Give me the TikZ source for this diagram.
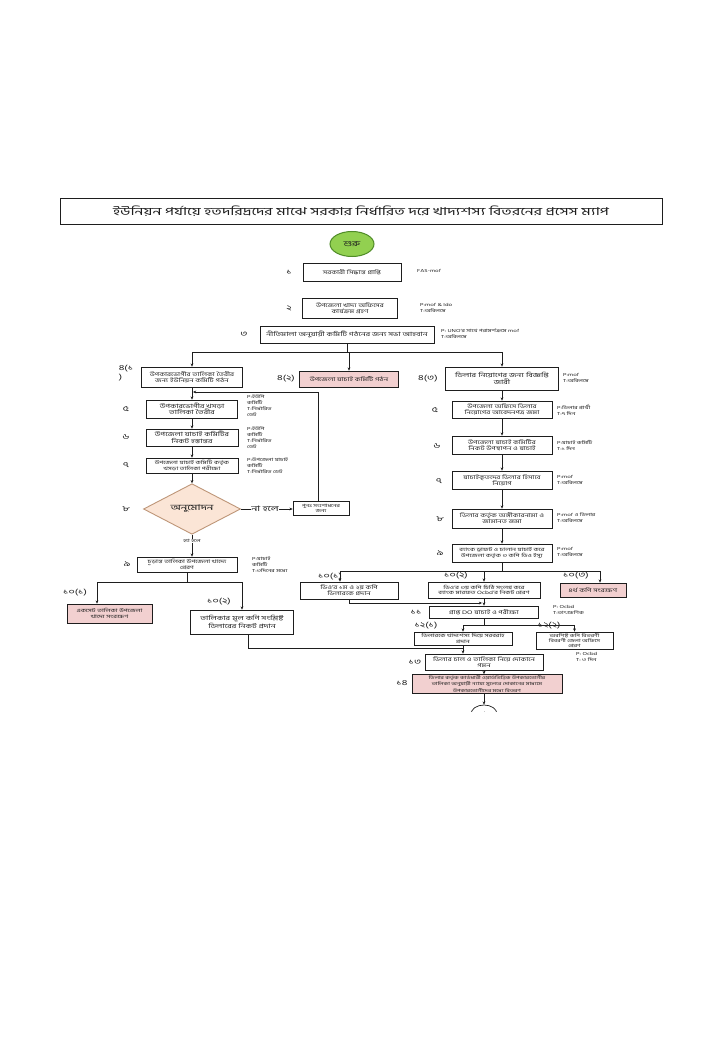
\documentclass[tikz,border=0pt]{standalone}
\usepackage{fontspec}
\setmainfont{Hind Siliguri}[Script=Bengali, FakeStretch=1.45]
\usetikzlibrary{shapes.geometric,arrows.meta}
\definecolor{pinkfill}{RGB}{242,208,208}
\definecolor{diafill}{RGB}{251,229,214}
\definecolor{diaborder}{RGB}{190,150,120}
\definecolor{startfill}{RGB}{146,208,80}
\definecolor{startborder}{RGB}{80,140,40}
\definecolor{ink}{RGB}{30,30,30}
\tikzset{
  box/.style={draw=ink, line width=0.7pt, fill=white, align=center, inner sep=0.5pt, text=ink, font=\fontsize{5.3}{6}\selectfont},
  pbox/.style={box, fill=pinkfill},
  side/.style={align=left, anchor=west, inner sep=0pt, text=ink, font=\fontsize{4.4}{6}\selectfont},
  num/.style={inner sep=0pt, text=ink, font=\fontsize{7.5}{8.5}\selectfont},
  arr/.style={-{Stealth[length=3.2pt,width=2.8pt]}, line width=0.7pt, draw=ink},
  ln/.style={line width=0.7pt, draw=ink},
  lbl/.style={fill=white, inner sep=0.6pt, text=ink}
}
\begin{document}
\begin{tikzpicture}[x=1pt,y=-1pt]
\useasboundingbox (0,0) rectangle (720,1040);
\fill[white] (0,0) rectangle (720,1040);

% title
\node[draw=ink, line width=0.8pt, minimum width=602pt, minimum height=26pt, inner sep=0pt, text=ink, font=\fontsize{10.9}{11.5}\selectfont] (title) at (361,211) {ইউনিয়ন পর্যায়ে হতদরিদ্রদের মাঝে সরকার নির্ধারিত দরে খাদ্যশস্য বিতরনের প্রসেস ম্যাপ};

% start
\node[ellipse, draw=startborder, line width=1pt, fill=startfill, minimum width=44pt, minimum height=25pt, inner sep=0pt, text=ink, font=\fontsize{7.5}{8}\selectfont] (start) at (352,244) {শুরু};

% main column
\node[box, minimum width=98pt, minimum height=18pt] (b1) at (352,272) {সরকারী সিদ্ধান্ত প্রাপ্তি};
\node[num] at (289,272) {১};
\node[side] at (417,271) {FAS-mof};

\node[box, minimum width=95pt, minimum height=20pt] (b2) at (350,308) {উপজেলা খাদ্য অফিসের\\কার্যক্রম গ্রহণ};
\node[num] at (289,308) {২};
\node[side] at (420,308) {P:mof \& Ido\\T:অবিলম্বে};

\node[box, minimum width=174pt, minimum height=17pt, font=\fontsize{5.8}{6.5}\selectfont] (b3) at (347,334.5) {নীতিমালা অনুযায়ী কমিটি গঠনের জন্য সভা আহবান};
\node[num] at (244,334) {৩};
\node[side] at (441,334) {P: UNO'র সাথে পরামর্শক্রমে mof\\T:অবিলম্বে};

% level 4
\node[box, minimum width=101pt, minimum height=20pt] (b41) at (192,377) {উপকারভোগীর তালিকা তৈরীর\\জন্য ইউনিয়ন কমিটি গঠন};
\node[num, align=left] at (126,373) {৪(১\\)};
\node[pbox, minimum width=99pt, minimum height=16pt] (b42) at (349,379) {উপজেলা যাচাই কমিটি গঠন};
\node[num] at (286,379) {৪(২)};
\node[box, minimum width=113pt, minimum height=23pt, font=\fontsize{6}{7}\selectfont] (b43) at (502,378.5) {ডিলার নিয়োগের জন্য বিজ্ঞপ্তি\\জারী};
\node[num] at (428,379) {৪(৩)};
\node[side] at (563,378) {P:mof\\T:অবিলম্বে};

\coordinate (j3) at (347,352);
\draw[ln] (b3.south) -- (j3);
\draw[ln] (b41.north |- j3) -- (b43.north |- j3);
\draw[arr] (b41.north |- j3) -- (b41.north);
\draw[arr] (b42.north |- j3) -- (b42.north);
\draw[arr] (b43.north |- j3) -- (b43.north);

% left column
\node[box, minimum width=91pt, minimum height=18pt, font=\fontsize{5.8}{6.6}\selectfont] (b5L) at (192,409) {উপকারভোগীর খসড়া\\তালিকা তৈরীর};
\node[num] at (126,409) {৫};
\node[side] at (247,406) {P:ইউপি\\কমিটি\\T:নির্ধারিত\\ডেট};

\node[box, minimum width=92pt, minimum height=17pt, font=\fontsize{5.8}{6.6}\selectfont] (b6L) at (192,437.5) {উপজেলা যাচাই কমিটির\\নিকট হস্তান্তর};
\node[num] at (126,437) {৬};
\node[side] at (247,438) {P:ইউপি\\কমিটি\\T:নির্ধারিত\\ডেট};

\node[box, minimum width=92pt, minimum height=15pt, font=\fontsize{4.8}{5.6}\selectfont] (b7L) at (192,465.5) {উপজেলা যাচাই কমিটি কর্তৃক\\খসড়া তালিকা পরীক্ষা};
\node[num] at (126,465) {৭};
\node[side] at (247,466) {P:উপজেলা যাচাই\\কমিটি\\T:নির্ধারিত ডেট};

\node[diamond, draw=diaborder, line width=0.9pt, fill=diafill, minimum width=97pt, minimum height=38pt, inner sep=0pt, text=ink, font=\fontsize{8}{9}\selectfont] (dia) at (192,509) {অনুমোদন};
\node[num] at (126,509) {৮};

\node[box, minimum width=56pt, minimum height=14pt, font=\fontsize{4.4}{5}\selectfont] (rev) at (321,508) {পুনঃ সংশোধনের\\জন্য};

\draw[arr] (b41) -- (b5L);
\draw[arr] (b5L) -- (b6L);
\draw[arr] (b6L) -- (b7L);
\draw[arr] (b7L) -- (dia);
\draw[arr] (dia.east) -- (dia.east -| rev.west);
\node[lbl, font=\fontsize{7.5}{8}\selectfont] at (265,509) {না হলে};
\coordinate (loop) at (193,392);
\draw[arr] (rev.north -| 318,0) |- (loop);

\node[box, minimum width=100pt, minimum height=15pt, font=\fontsize{4.9}{5.6}\selectfont] (b9L) at (187,564.5) {চূড়ান্ত তালিকা উপজেলা খাদ্যে\\প্রেরণ};
\node[num] at (127,564) {৯};
\node[side] at (252,565) {P:যাচাই\\কমিটি\\T:৩দিনের মধ্যে};
\draw[arr] (dia.south) -- (dia.south |- b9L.north);
\node[lbl, font=\fontsize{4.4}{5}\selectfont] at (192,541) {হ্যা হলে};

\coordinate (j9) at (187,582);
\coordinate (j9a) at (97,582);
\coordinate (j9b) at (242,582);
\node[pbox, minimum width=85pt, minimum height=19pt, font=\fontsize{4.8}{5.6}\selectfont] (b101L) at (109.5,613.5) {একসেট তালিকা উপজেলা\\খাদ্যে সংরক্ষণ};
\node[num] at (75,593) {১০(১)};
\node[box, minimum width=103pt, minimum height=24pt, font=\fontsize{6}{7.5}\selectfont] (b102L) at (242,622) {তালিকার মূল কপি সংশ্লিষ্ট\\ডিলারের নিকট প্রদান};
\node[num] at (219,602) {১০(২)};
\draw[ln] (b9L.south) -- (j9);
\draw[ln] (j9a) -- (j9b);
\draw[arr] (j9a) -- (j9a |- b101L.north);
\draw[arr] (j9b) -- (b102L.north);

% right column
\node[box, minimum width=100pt, minimum height=17pt] (b5R) at (502,409.5) {উপজেলা অফিসে ডিলার\\নিয়োগের আবেদনপত্র জমা};
\node[num] at (435,410) {৫};
\node[side] at (557,410) {P:ডিলার প্রার্থী\\T:৭ দিন};

\node[box, minimum width=100pt, minimum height=18pt] (b6R) at (502,445) {উপজেলা যাচাই কমিটির\\নিকট উপস্থাপন ও যাচাই};
\node[num] at (437,446) {৬};
\node[side] at (557,445) {P:যাচাই কমিটি\\T:১ দিন};

\node[box, minimum width=100pt, minimum height=18pt] (b7R) at (502,480) {যাচাইকৃতদের ডিলার হিসাবে\\নিয়োগ};
\node[num] at (439,481) {৭};
\node[side] at (557,480) {P:mof\\T:অবিলম্বে};

\node[box, minimum width=100pt, minimum height=19pt] (b8R) at (502,518.5) {ডিলার কর্তৃক অঙ্গীকারনামা ও\\জামানত জমা};
\node[num] at (440,519) {৮};
\node[side] at (557,518) {P:mof ও ডিলার\\T:অবিলম্বে};

\node[box, minimum width=100pt, minimum height=18pt, font=\fontsize{4.8}{5.8}\selectfont] (b9R) at (502,553) {ব্যাংক ড্রাফট ও চালান যাচাই করে\\উপজেলা কর্তৃক ৩ কপি ডিও ইস্যু};
\node[num] at (440,553) {৯};
\node[side] at (557,552) {P:mof\\T:অবিলম্বে};

\draw[arr] (b43) -- (b5R);
\draw[arr] (b5R) -- (b6R);
\draw[arr] (b6R) -- (b7R);
\draw[arr] (b7R) -- (b8R);
\draw[arr] (b8R) -- (b9R);

\node[box, minimum width=98pt, minimum height=17pt] (b101R) at (349,590.5) {ডিও'র ১ম ও ২য় কপি\\ডিলারকে প্রদান};
\node[num] at (330,577) {১০(১)};
\node[box, minimum width=112pt, minimum height=16pt, font=\fontsize{4.8}{5.6}\selectfont] (b102R) at (484,590) {ডিও'র ৩য় কপি চিঠি সংলগ্ন করে\\ব্যাংক মারফত Ocbd'র নিকট প্রেরণ};
\node[num] at (456,576) {১০(২)};
\node[pbox, minimum width=66pt, minimum height=14pt] (b103R) at (593,590) {৪র্থ কপি সংরক্ষণ};
\node[num] at (576,576) {১০(৩)};

\coordinate (j9R) at (502,571);
\coordinate (j9Ra) at (340,571);
\coordinate (j9Rc) at (600,571);
\draw[ln] (b9R.south) -- (j9R);
\draw[ln] (j9Ra) -- (j9Rc);
\draw[arr] (j9Ra) -- (j9Ra |- b101R.north);
\draw[arr] (b102R.north |- j9R) -- (b102R.north);
\draw[arr] (j9Rc) -- (j9Rc |- b103R.north);

\node[box, minimum width=109pt, minimum height=12pt] (b11) at (484,612) {প্রাপ্ত DO যাচাই ও পরীক্ষা};
\node[num] at (416,612) {১১};
\node[side] at (553,610) {P: Ocbd\\T:তাৎক্ষণিক};
\coordinate (c11) at (482,603);
\draw[arr] (b101R.south) |- (c11);
\draw[arr] (b102R) -- (b11);

\node[box, minimum width=98pt, minimum height=13pt, font=\fontsize{4.8}{5.4}\selectfont] (b121) at (463,638.5) {ডিলারকে খাদ্যশস্য দিয়ে সরবরাহ\\প্রদান};
\node[box, minimum width=77pt, minimum height=17pt, font=\fontsize{4.4}{4.9}\selectfont] (b122) at (574.5,640.5) {অবশিষ্ট কপি বিতরণী\\বিবরণী জেলা অফিসে\\প্রেরণ};
\node[side] at (576,657) {P: Ocbd\\T: ৩ দিন};
\coordinate (j11) at (484,625);
\coordinate (j11a) at (463,625);
\coordinate (j11b) at (574.5,625);
\draw[ln] (b11.south) -- (j11);
\draw[ln] (j11a) -- (j11b);
\draw[arr] (j11a) -- (b121.north);
\draw[arr] (j11b) -- (b122.north);
\node[num] at (426,626) {১২(১)};
\node[num] at (549,626) {১২(২)};

\node[box, minimum width=118pt, minimum height=16pt] (b13) at (484,662) {ডিলার চাল ও তালিকা নিয়ে দোকানে\\গমন};
\node[num] at (415,662) {১৩};
\coordinate (c102) at (248,648);
\coordinate (j13) at (463,648);
\draw[ln] (b102L.south -| c102) -- (c102) -- (j13);
\draw[arr] (b121.south) -- (b121.south |- b13.north);

\node[pbox, minimum width=150pt, minimum height=19pt, font=\fontsize{4.3}{5}\selectfont] (b14) at (487,684) {ডিলার কর্তৃক কার্ডধারী ওয়ার্ডভিত্তিক উপকারভোগীর\\তালিকা অনুযায়ী ন্যায্য মূল্যের দোকানের মাধ্যমে\\উপকারভোগীদের মধ্যে বিতরণ};
\node[num] at (402,683) {১৪};
\draw[arr] (b13.south -| 484,0) -- (b14.north -| 484,0);

\begin{scope}
\clip (0,0) rectangle (720,711);
\node[ellipse, draw=ink, line width=0.7pt, minimum width=26pt, minimum height=18pt, inner sep=0pt, text=ink, font=\fontsize{6}{7}\selectfont] (end) at (484,714) {শেষ};
\end{scope}
\draw[arr] (b14.south -| end.north) -- (end.north);

\end{tikzpicture}
\end{document}
